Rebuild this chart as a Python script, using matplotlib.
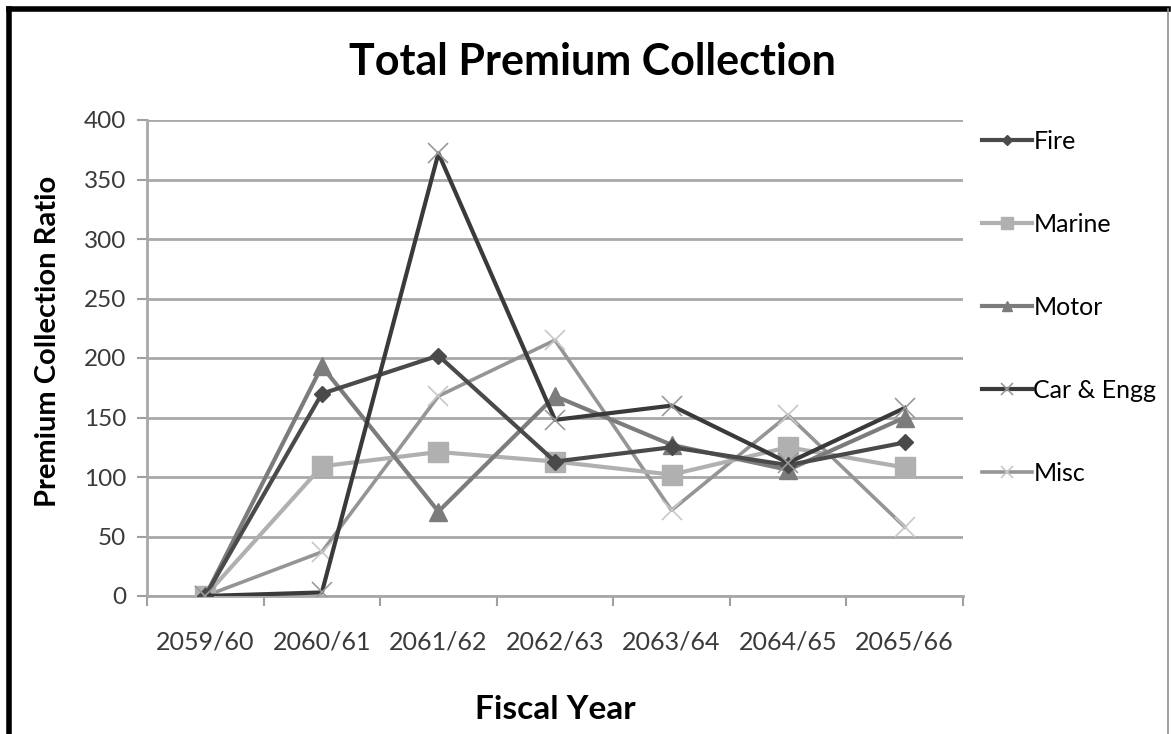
import numpy as np
import matplotlib.pyplot as plt
from matplotlib.lines import Line2D

plt.rcParams['font.family'] = ['Lato', 'DejaVu Sans']

years = ['2059/60', '2060/61', '2061/62', '2062/63', '2063/64', '2064/65', '2065/66']
fire = [0, 170, 202, 113, 125, 110, 129]
marine = [0, 109, 121, 113, 102, 125, 108]
motor = [0, 193, 71, 168, 127, 106, 150]
car_engg = [0, 3, 372, 148, 160, 112, 158]
misc = [0, 37, 168, 215, 72, 152, 58]

fig = plt.figure(figsize=(11.71, 7.34), dpi=100)
ax = fig.add_axes([147 / 1171, 1 - 596 / 734, (963 - 147) / 1171, (596 - 120) / 734])

x = np.arange(len(years))
ax.plot(x, fire, color='#4a4a4a', lw=3, marker='D', ms=8, label='Fire', zorder=5)
ax.plot(x, marine, color='#b0b0b0', lw=3, marker='s', ms=14, label='Marine', zorder=4)
ax.plot(x, motor, color='#7c7c7c', lw=3, marker='^', ms=13, label='Motor', zorder=4)
ax.plot(x, car_engg, color='#3a3a3a', lw=3, marker='x', ms=14, mew=1.2,
        mec='#9a9a9a', label='Car & Engg', zorder=6)
ax.plot(x, misc, color='#959595', lw=2.6, marker='x', ms=14, mew=1.2,
        mec='#c8c8c8', label='Misc', zorder=3)

ax.set_xlim(-0.5, len(years) - 0.5)
ax.set_ylim(0, 400)
ax.set_yticks(range(0, 401, 50))
ax.set_xticks(x)
ax.set_xticklabels(years)
ax.set_xticks(np.arange(-0.5, len(years), 1), minor=True)
ax.tick_params(axis='x', which='major', length=0, pad=25, labelsize=18, labelcolor='#3a3a3a')
ax.tick_params(axis='x', which='minor', length=7, color='#a0a0a0', width=1.5, direction='out')
ax.tick_params(axis='y', length=7, color='#a0a0a0', width=1.5, pad=8, labelsize=17.5,
               labelcolor='#3a3a3a')
ax.grid(axis='y', color='#a8a8a8', lw=2)
ax.set_axisbelow(True)
for side in ['top', 'right']:
    ax.spines[side].set_visible(False)
for side in ['left', 'bottom']:
    ax.spines[side].set_color('#a8a8a8')
    ax.spines[side].set_linewidth(2)

ax.set_ylabel('Premium Collection Ratio', fontsize=21, fontweight='bold')
ax.yaxis.set_label_coords(-0.105, 0.535)
ax.set_xlabel('Fiscal Year', fontsize=24, fontweight='bold', labelpad=30)
fig.text(592 / 1171, 1 - 62 / 734, 'Total Premium Collection', ha='center', va='center',
         fontsize=31, fontweight='bold')

leg = ax.legend(loc='upper left', bbox_to_anchor=(1.005, 1.01), frameon=False,
                fontsize=18, labelspacing=2.4, handlelength=2.0, handletextpad=0.05,
                borderaxespad=0.2, markerscale=0.6)

# frame around the whole figure
fig.add_artist(Line2D([9 / 1171, 9 / 1171], [0, 1 - 9 / 734], color='black', lw=4))
fig.add_artist(Line2D([9 / 1171, 1168 / 1171], [1 - 9 / 734, 1 - 9 / 734], color='black', lw=4))
fig.add_artist(Line2D([1168 / 1171, 1168 / 1171], [0, 1 - 9 / 734], color='#909090', lw=1.2))

fig.savefig('out.png', dpi=100)
